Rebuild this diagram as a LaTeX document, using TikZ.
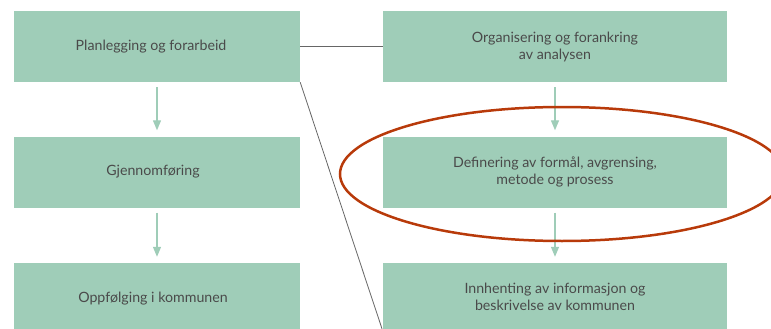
\documentclass[tikz,border=0pt]{standalone}
\usepackage{fontspec}
\setmainfont{Lato}
\usepackage{xcolor}
\usetikzlibrary{positioning}
\usetikzlibrary{arrows.meta}

\definecolor{boxgreen}{HTML}{9FCDB8}
\definecolor{textgrey}{HTML}{4A4A4A}
\definecolor{linegrey}{HTML}{666666}
\definecolor{ringred}{HTML}{B83A0A}

\tikzset{
    stepbox/.style={fill=boxgreen, draw=none, inner sep=0pt, align=center,
        text=textgrey, font=\fontsize{14.2}{17}\selectfont},
    leftbox/.style={stepbox, minimum width=286pt, minimum height=71pt},
    rightbox/.style={stepbox, minimum width=344pt, minimum height=71pt},
    flow/.style={draw=boxgreen, line width=1.3pt, -{Triangle[width=8pt,length=10pt]}},
    link/.style={draw=linegrey, line width=0.8pt},
    ring/.style={draw=ringred, line width=2.5pt}
}

\begin{document}
\begin{tikzpicture}[x=1pt,y=-1pt]
            \useasboundingbox (0,0) rectangle (771,329);
            \clip (0,0) rectangle (771,329);
            % left column
            \node[leftbox] (plan) at (157,46.5) {Planlegging og forarbeid\hspace*{12pt}};
            \node[leftbox] (gjen) at (157,172) {Gjennomføring\hspace*{8pt}};
            \node[leftbox] (oppf) at (157,298.5) {Oppfølging i kommunen\hspace*{8pt}};
            % right column
            \node[rightbox] (org) at (555,46.5) {Organisering og forankring\\av analysen};
            \node[rightbox] (def) at (555,172) {Definering av formål, avgrensing,\\metode og prosess};
            \node[rightbox, minimum height=68pt] (innh) at (555,297) {Innhenting av informasjon og\\beskrivelse av kommunen};
            % arrows
            \draw[flow] ([yshift=-5pt]plan.south) -- ([yshift=6pt]gjen.north);
            \draw[flow] ([yshift=-5pt]gjen.south) -- ([yshift=6pt]oppf.north);
            \draw[flow] ([yshift=-5pt]org.south) -- ([yshift=6pt]def.north);
            \draw[flow] ([yshift=-5pt]def.south) -- ([yshift=6pt]innh.north);
            % zoom lines
            \draw[link] (plan.east) -- (org.west);
            \draw[link] (plan.south east) -- (innh.south west);
            % highlight
            \draw[ring] (562,174) ellipse [x radius=222pt, y radius=67pt];
        \end{tikzpicture}
\end{document}
